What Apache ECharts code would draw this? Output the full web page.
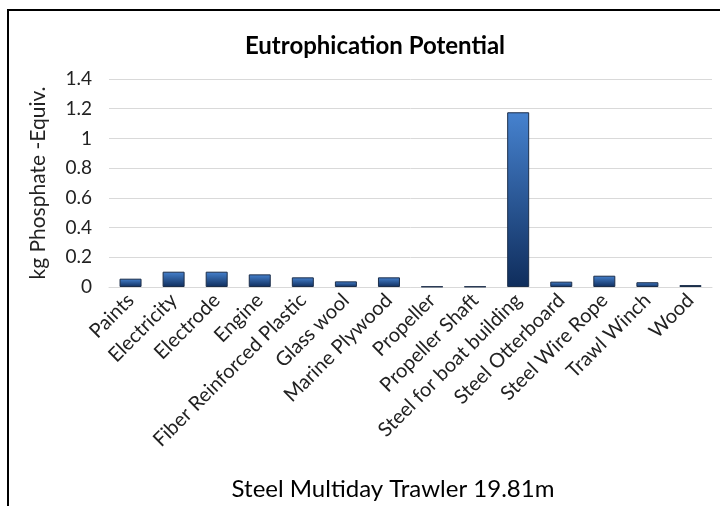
<!DOCTYPE html>
<html lang="en" style="height: 100%">
<head>
  <meta charset="utf-8">
  <style>
    html, body { margin: 0; padding: 0; width: 100%; height: 100%; overflow: hidden; background: #fff; }
  </style>
</head>
<body>
  <div id="container" style="height: 506px;width: 720px;"></div>
  <script type="text/javascript" src="https://cdn.jsdelivr.net/npm/echarts@6/dist/echarts.min.js"></script>
  <script type="text/javascript">
    // categories (x axis)
    const categories = [
      "Paints", "Electricity", "Electrode", "Engine", "Fiber Reinforced Plastic",
      "Glass wool", "Marine Plywood", "Propeller", "Propeller Shaft",
      "Steel for boat building", "Steel Otterboard", "Steel Wire Rope", "Trawl Winch", "Wood"
    ];
    // kg Phosphate-Equiv. per item
    const values = [
      0.056, 0.103, 0.103, 0.085, 0.065,
      0.038, 0.065, 0.003, 0.003,
      1.176, 0.036, 0.076, 0.032, 0.013
    ];
    const yTicks = [0, 0.2, 0.4, 0.6, 0.8, 1, 1.2, 1.4];

    const font = "Lato, 'Open Sans', sans-serif";
    var dom = document.getElementById('container');
    var myChart = echarts.init(dom, null, { renderer: 'canvas' });

    var option = {
      animation: false,
      title: [
        {
          text: "Eutrophication Potential",
          left: 370, top: 29, textAlign: "center",
          textStyle: { fontFamily: font, fontSize: 24, fontWeight: "bold", color: "#000" }
        },
        {
          text: "Steel Multiday Trawler 19.81m",
          left: 388, top: 472, textAlign: "center",
          textStyle: { fontFamily: font, fontSize: 24, fontWeight: "normal", color: "#000" }
        }
      ],
      graphic: [
        {
          type: "rect",
          shape: { x: 8, y: 10, width: 800, height: 600 },
          style: { fill: "none", stroke: "#000", lineWidth: 2 }
        }
      ],
      grid: { left: 109, right: 8, top: 79, bottom: 219, containLabel: false },
      xAxis: {
        type: "category",
        data: categories,
        axisLine: { show: true, lineStyle: { color: "#d9d9d9", width: 1 } },
        axisTick: { show: false },
        axisLabel: {
          interval: 0, rotate: 45, margin: 10,
          fontFamily: font, fontSize: 20, color: "#222"
        }
      },
      yAxis: {
        type: "value",
        min: yTicks[0], max: yTicks[yTicks.length - 1], interval: 0.2,
        name: "kg Phosphate -Equiv.",
        nameLocation: "middle", nameGap: 60, nameRotate: 90,
        nameTextStyle: { fontFamily: font, fontSize: 21, color: "#222" },
        axisLine: { show: false },
        axisTick: { show: false },
        axisLabel: {
          margin: 17, fontFamily: font, fontSize: 19, color: "#222",
          formatter: (v) => String(Math.round(v * 10) / 10)
        },
        splitLine: { show: true, lineStyle: { color: "#d9d9d9", width: 1 } }
      },
      series: [
        {
          type: "bar",
          data: values,
          barWidth: 22,
          itemStyle: {
            color: new echarts.graphic.LinearGradient(0, 0, 0, 1, [
              { offset: 0, color: "#4682cf" },
              { offset: 1, color: "#0f2d5c" }
            ]),
            borderColor: "#1c2e4a",
            borderWidth: 1
          }
        }
      ]
    };
    myChart.setOption(option);
  </script>
</body>
</html>
